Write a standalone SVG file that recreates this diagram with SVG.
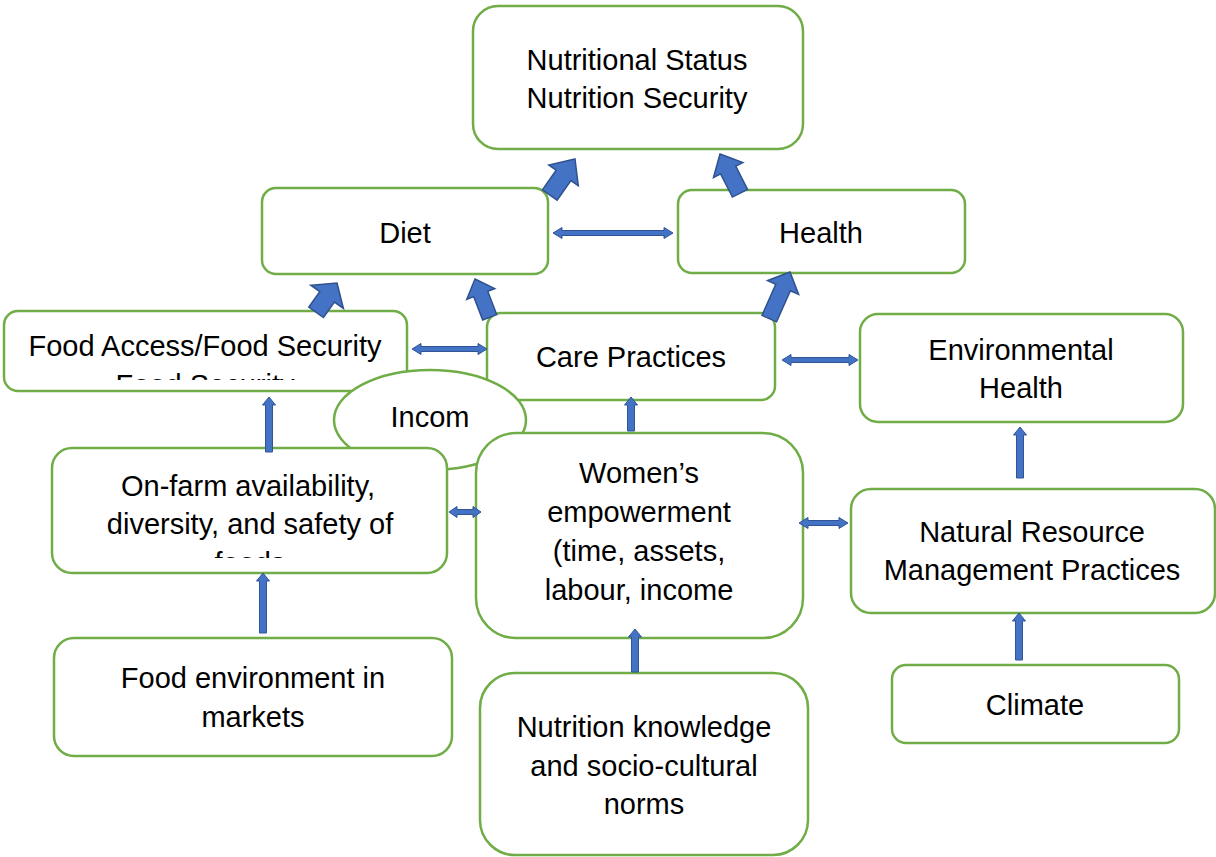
<svg xmlns="http://www.w3.org/2000/svg" width="1216" height="857" viewBox="0 0 1216 857">
<style>
.box{fill:#ffffff;stroke:#70AD47;stroke-width:2.5}
.t{font-family:"Liberation Sans",Arial,sans-serif;font-size:29px;fill:#000000;text-anchor:middle}
.blk{fill:#4472C4;stroke:#2F528F;stroke-width:1.5;stroke-linejoin:miter}
.thin{fill:#4472C4;stroke:#2F5597;stroke-width:1}
</style>
<defs>
<clipPath id="clipFA"><rect x="4" y="311" width="403" height="69"/></clipPath>
<clipPath id="clipOF"><rect x="52" y="448" width="395" height="110"/></clipPath>
</defs>
<rect width="1216" height="857" fill="#ffffff"/>

<g id="node-nutritional-status">
<rect class="box" x="473" y="6" width="330" height="143" rx="25"/>
<text class="t" x="637" y="70">Nutritional Status</text>
<text class="t" x="637" y="108">Nutrition Security</text>
</g>
<g id="node-diet">
<rect class="box" x="262" y="188" width="286" height="86" rx="14"/>
<text class="t" x="405" y="243">Diet</text>
</g>
<g id="node-health">
<rect class="box" x="678" y="190" width="287" height="83" rx="14"/>
<text class="t" x="821" y="243">Health</text>
</g>
<g id="node-food-access">
<rect class="box" x="4" y="311" width="403" height="80" rx="14"/>
<g clip-path="url(#clipFA)">
<text class="t" x="205" y="356">Food Access/Food Security</text>
<text class="t" x="205" y="395">Food Security</text>
</g>
</g>
<g id="node-care-practices">
<rect class="box" x="487" y="313" width="288" height="87" rx="14"/>
<text class="t" x="631" y="367">Care Practices</text>
</g>
<g id="node-environmental-health">
<rect class="box" x="860" y="314" width="323" height="108" rx="18"/>
<text class="t" x="1021" y="360">Environmental</text>
<text class="t" x="1021" y="398">Health</text>
</g>
<g id="node-income">
<ellipse class="box" cx="430" cy="420" rx="96" ry="50"/>
<text class="t" x="430" y="427">Incom</text>
</g>
<g id="node-on-farm">
<rect class="box" x="52" y="448" width="395" height="125" rx="20"/>
<g clip-path="url(#clipOF)">
<text class="t" x="248" y="496">On-farm availability,</text>
<text class="t" x="250" y="534">diversity, and safety of</text>
<text class="t" x="250" y="573">foods</text>
</g>
</g>
<g id="node-womens-empowerment">
<rect class="box" x="476" y="433" width="327" height="205" rx="40"/>
<text class="t" x="639" y="483">Women’s</text>
<text class="t" x="639" y="522">empowerment</text>
<text class="t" x="639" y="561">(time, assets,</text>
<text class="t" x="639" y="600">labour, income</text>
</g>
<g id="node-nrm">
<rect class="box" x="851" y="489" width="364" height="124" rx="20"/>
<text class="t" x="1032" y="542">Natural Resource</text>
<text class="t" x="1032" y="580">Management Practices</text>
</g>
<g id="node-food-environment">
<rect class="box" x="54" y="638" width="398" height="118" rx="20"/>
<text class="t" x="253" y="688">Food environment in</text>
<text class="t" x="253" y="727">markets</text>
</g>
<g id="node-nutrition-knowledge">
<rect class="box" x="480" y="673" width="328" height="182" rx="35"/>
<text class="t" x="644" y="737">Nutrition knowledge</text>
<text class="t" x="644" y="776">and socio-cultural</text>
<text class="t" x="644" y="814">norms</text>
</g>
<g id="node-climate">
<rect class="box" x="892" y="665" width="287" height="78" rx="14"/>
<text class="t" x="1035" y="715">Climate</text>
</g>

<g id="connectors">
<!-- block arrows -->
<polygon class="blk" transform="translate(575,159) rotate(35)" points="0,0 18,20 9,20 9,44 -9,44 -9,20 -18,20"/>
<polygon class="blk" transform="translate(720,154) rotate(-27)" points="0,0 16.5,18 8.5,18 8.5,44 -8.5,44 -8.5,18 -16.5,18"/>
<polygon class="blk" transform="translate(337,283) rotate(35.5)" points="0,0 20,17 9,17 9,36 -9,36 -9,17 -20,17"/>
<polygon class="blk" transform="translate(475,279) rotate(-21)" points="0,0 15,16 7.5,16 7.5,41 -7.5,41 -7.5,16 -15,16"/>
<polygon class="blk" transform="translate(790,272) rotate(24)" points="0,0 17,17 8,17 8,51 -8,51 -8,17 -17,17"/>
<!-- double arrows -->
<polygon class="thin" points="553,233 562,227.5 562,230.5 664,230.5 664,227.5 673,233 664,238.5 664,235.5 562,235.5 562,238.5"/>
<polygon class="thin" points="412,349 421,343.5 421,346.5 478,346.5 478,343.5 487,349 478,354.5 478,351.5 421,351.5 421,354.5"/>
<polygon class="thin" points="782,360 791,354.5 791,357.5 849,357.5 849,354.5 858,360 849,365.5 849,362.5 791,362.5 791,365.5"/>
<polygon class="thin" points="449,512 457,506.5 457,509.5 473,509.5 473,506.5 481,512 473,517.5 473,514.5 457,514.5 457,517.5"/>
<polygon class="thin" points="799,523 808,517.5 808,520.5 839,520.5 839,517.5 848,523 839,528.5 839,525.5 808,525.5 808,528.5"/>
<!-- up arrows -->
<polygon class="thin" points="269,397 275.5,405 272.5,405 272.5,452 265.5,452 265.5,405 262.5,405"/>
<polygon class="thin" points="631,397 637.5,405 634.5,405 634.5,431 627.5,431 627.5,405 624.5,405"/>
<polygon class="thin" points="263,573 269.5,581 266.5,581 266.5,633 259.5,633 259.5,581 256.5,581"/>
<polygon class="thin" points="635,629 641.5,637 638.5,637 638.5,672 631.5,672 631.5,637 628.5,637"/>
<polygon class="thin" points="1020,427 1026.5,435 1023.5,435 1023.5,478 1016.5,478 1016.5,435 1013.5,435"/>
<polygon class="thin" points="1019,613 1025.5,621 1022.5,621 1022.5,660 1015.5,660 1015.5,621 1012.5,621"/>
</g>
</svg>
